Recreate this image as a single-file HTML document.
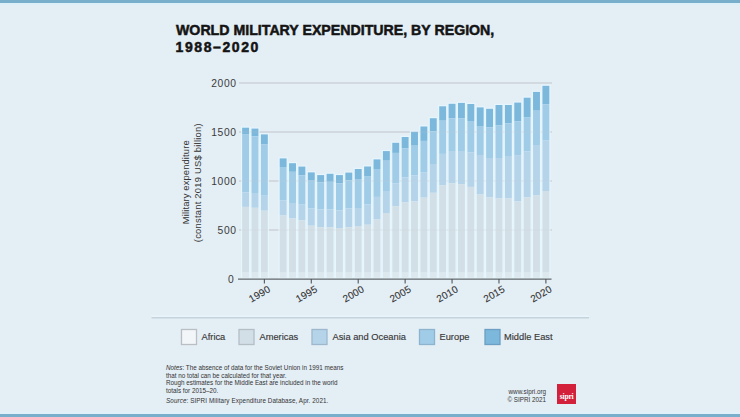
<!DOCTYPE html>
<html><head><meta charset="utf-8">
<style>
html,body{margin:0;padding:0;}
body{width:740px;height:417px;overflow:hidden;background:#e4eef5;position:relative;font-family:"Liberation Sans",sans-serif;}
.bar{position:absolute;left:0;width:740px;height:3px;background:#79afca;}
.t1,.t2{position:absolute;left:175.5px;font-weight:bold;font-size:14px;line-height:16px;color:#141414;white-space:nowrap;-webkit-text-stroke:0.5px #141414;transform-origin:0 0;}
.t1{top:22px;transform:scaleX(1.012);}
.t2{top:38.8px;letter-spacing:1.6px;}
.notes{position:absolute;left:166px;top:364.3px;font-size:6.3px;line-height:7.6px;color:#333;}
.notes .src{margin-top:2.8px;letter-spacing:0.09px;}
.web{position:absolute;right:194px;top:388.1px;font-size:6.3px;line-height:8.1px;color:#333;text-align:right;}
.logo{position:absolute;left:557px;top:384px;width:19.3px;height:19.5px;background:#d4213b;}
.logo span{position:absolute;left:0;width:19.3px;top:8.6px;color:#fff;font-family:"Liberation Serif",serif;font-weight:bold;font-size:7.6px;line-height:8px;text-align:center;letter-spacing:-0.2px;}
svg{position:absolute;left:0;top:0;}
</style></head><body>
<div class="bar" style="top:0"></div><div style="position:absolute;left:0;top:3px;width:740px;height:2px;background:#dcf0f9"></div>
<div style="position:absolute;left:0;top:412px;width:740px;height:2px;background:#e1f1fa"></div><div class="bar" style="top:414px"></div>
<div class="t1">WORLD MILITARY EXPENDITURE, BY REGION,</div><div class="t2">1988–2020</div>
<svg width="740" height="417" viewBox="0 0 740 417">
<g>
<line x1="239" y1="230.0" x2="552" y2="230.0" stroke="#c4cbd0" stroke-width="1"/>
<line x1="239" y1="181.0" x2="552" y2="181.0" stroke="#c4cbd0" stroke-width="1"/>
<line x1="239" y1="132.0" x2="552" y2="132.0" stroke="#c4cbd0" stroke-width="1"/>
<line x1="239" y1="83.0" x2="552" y2="83.0" stroke="#c4cbd0" stroke-width="1"/>
</g>
<g>
<rect x="240.95" y="126.50" width="9.30" height="152.50" fill="#e6f6fd"/>
<rect x="242.15" y="127.70" width="6.9" height="6.90" fill="#7cb7dc"/>
<rect x="242.15" y="134.60" width="6.9" height="57.90" fill="#a1cce7"/>
<rect x="242.15" y="192.50" width="6.9" height="14.40" fill="#b5d4ea"/>
<rect x="242.15" y="206.90" width="6.9" height="65.70" fill="#d3dfe6"/>
<rect x="242.15" y="272.60" width="6.9" height="5.20" fill="#dde8ee"/>
<rect x="250.33" y="127.40" width="9.30" height="151.60" fill="#e6f6fd"/>
<rect x="251.53" y="128.60" width="6.9" height="7.70" fill="#7cb7dc"/>
<rect x="251.53" y="136.30" width="6.9" height="56.70" fill="#a1cce7"/>
<rect x="251.53" y="193.00" width="6.9" height="14.80" fill="#b5d4ea"/>
<rect x="251.53" y="207.80" width="6.9" height="64.80" fill="#d3dfe6"/>
<rect x="251.53" y="272.60" width="6.9" height="5.20" fill="#dde8ee"/>
<rect x="259.72" y="133.20" width="9.30" height="145.80" fill="#e6f6fd"/>
<rect x="260.92" y="134.40" width="6.9" height="10.10" fill="#7cb7dc"/>
<rect x="260.92" y="144.50" width="6.9" height="51.20" fill="#a1cce7"/>
<rect x="260.92" y="195.70" width="6.9" height="15.00" fill="#b5d4ea"/>
<rect x="260.92" y="210.70" width="6.9" height="61.90" fill="#d3dfe6"/>
<rect x="260.92" y="272.60" width="6.9" height="5.20" fill="#dde8ee"/>
<rect x="278.49" y="157.20" width="9.30" height="121.80" fill="#e6f6fd"/>
<rect x="279.69" y="158.40" width="6.9" height="8.60" fill="#7cb7dc"/>
<rect x="279.69" y="167.00" width="6.9" height="33.20" fill="#a1cce7"/>
<rect x="279.69" y="200.20" width="6.9" height="15.30" fill="#b5d4ea"/>
<rect x="279.69" y="215.50" width="6.9" height="57.10" fill="#d3dfe6"/>
<rect x="279.69" y="272.60" width="6.9" height="5.20" fill="#dde8ee"/>
<rect x="287.87" y="162.00" width="9.30" height="117.00" fill="#e6f6fd"/>
<rect x="289.07" y="163.20" width="6.9" height="8.60" fill="#7cb7dc"/>
<rect x="289.07" y="171.80" width="6.9" height="31.20" fill="#a1cce7"/>
<rect x="289.07" y="203.00" width="6.9" height="15.40" fill="#b5d4ea"/>
<rect x="289.07" y="218.40" width="6.9" height="54.20" fill="#d3dfe6"/>
<rect x="289.07" y="272.60" width="6.9" height="5.20" fill="#dde8ee"/>
<rect x="297.25" y="165.40" width="9.30" height="113.60" fill="#e6f6fd"/>
<rect x="298.45" y="166.60" width="6.9" height="8.70" fill="#7cb7dc"/>
<rect x="298.45" y="175.30" width="6.9" height="29.30" fill="#a1cce7"/>
<rect x="298.45" y="204.60" width="6.9" height="15.70" fill="#b5d4ea"/>
<rect x="298.45" y="220.30" width="6.9" height="52.30" fill="#d3dfe6"/>
<rect x="298.45" y="272.60" width="6.9" height="5.20" fill="#dde8ee"/>
<rect x="306.64" y="171.20" width="9.30" height="107.80" fill="#e6f6fd"/>
<rect x="307.84" y="172.40" width="6.9" height="7.60" fill="#7cb7dc"/>
<rect x="307.84" y="180.00" width="6.9" height="28.40" fill="#a1cce7"/>
<rect x="307.84" y="208.40" width="6.9" height="17.30" fill="#b5d4ea"/>
<rect x="307.84" y="225.70" width="6.9" height="46.90" fill="#d3dfe6"/>
<rect x="307.84" y="272.60" width="6.9" height="5.20" fill="#dde8ee"/>
<rect x="316.02" y="173.90" width="9.30" height="105.10" fill="#e6f6fd"/>
<rect x="317.22" y="175.10" width="6.9" height="7.10" fill="#7cb7dc"/>
<rect x="317.22" y="182.20" width="6.9" height="27.10" fill="#a1cce7"/>
<rect x="317.22" y="209.30" width="6.9" height="17.90" fill="#b5d4ea"/>
<rect x="317.22" y="227.20" width="6.9" height="45.40" fill="#d3dfe6"/>
<rect x="317.22" y="272.60" width="6.9" height="5.20" fill="#dde8ee"/>
<rect x="325.41" y="172.60" width="9.30" height="106.40" fill="#e6f6fd"/>
<rect x="326.61" y="173.80" width="6.9" height="8.00" fill="#7cb7dc"/>
<rect x="326.61" y="181.80" width="6.9" height="27.50" fill="#a1cce7"/>
<rect x="326.61" y="209.30" width="6.9" height="17.90" fill="#b5d4ea"/>
<rect x="326.61" y="227.20" width="6.9" height="45.40" fill="#d3dfe6"/>
<rect x="326.61" y="272.60" width="6.9" height="5.20" fill="#dde8ee"/>
<rect x="334.79" y="173.90" width="9.30" height="105.10" fill="#e6f6fd"/>
<rect x="335.99" y="175.10" width="6.9" height="8.30" fill="#7cb7dc"/>
<rect x="335.99" y="183.40" width="6.9" height="26.90" fill="#a1cce7"/>
<rect x="335.99" y="210.30" width="6.9" height="17.70" fill="#b5d4ea"/>
<rect x="335.99" y="228.00" width="6.9" height="44.60" fill="#d3dfe6"/>
<rect x="335.99" y="272.60" width="6.9" height="5.20" fill="#dde8ee"/>
<rect x="344.17" y="171.40" width="9.30" height="107.60" fill="#e6f6fd"/>
<rect x="345.37" y="172.60" width="6.9" height="7.70" fill="#7cb7dc"/>
<rect x="345.37" y="180.30" width="6.9" height="28.10" fill="#a1cce7"/>
<rect x="345.37" y="208.40" width="6.9" height="18.80" fill="#b5d4ea"/>
<rect x="345.37" y="227.20" width="6.9" height="45.40" fill="#d3dfe6"/>
<rect x="345.37" y="272.60" width="6.9" height="5.20" fill="#dde8ee"/>
<rect x="353.56" y="167.80" width="9.30" height="111.20" fill="#e6f6fd"/>
<rect x="354.76" y="169.00" width="6.9" height="10.00" fill="#7cb7dc"/>
<rect x="354.76" y="179.00" width="6.9" height="29.00" fill="#a1cce7"/>
<rect x="354.76" y="208.00" width="6.9" height="18.00" fill="#b5d4ea"/>
<rect x="354.76" y="226.00" width="6.9" height="46.60" fill="#d3dfe6"/>
<rect x="354.76" y="272.60" width="6.9" height="5.20" fill="#dde8ee"/>
<rect x="362.94" y="165.30" width="9.30" height="113.70" fill="#e6f6fd"/>
<rect x="364.14" y="166.50" width="6.9" height="10.10" fill="#7cb7dc"/>
<rect x="364.14" y="176.60" width="6.9" height="27.90" fill="#a1cce7"/>
<rect x="364.14" y="204.50" width="6.9" height="20.20" fill="#b5d4ea"/>
<rect x="364.14" y="224.70" width="6.9" height="47.90" fill="#d3dfe6"/>
<rect x="364.14" y="272.60" width="6.9" height="5.20" fill="#dde8ee"/>
<rect x="372.33" y="158.20" width="9.30" height="120.80" fill="#e6f6fd"/>
<rect x="373.53" y="159.40" width="6.9" height="9.60" fill="#7cb7dc"/>
<rect x="373.53" y="169.00" width="6.9" height="27.90" fill="#a1cce7"/>
<rect x="373.53" y="196.90" width="6.9" height="22.60" fill="#b5d4ea"/>
<rect x="373.53" y="219.50" width="6.9" height="53.10" fill="#d3dfe6"/>
<rect x="373.53" y="272.60" width="6.9" height="5.20" fill="#dde8ee"/>
<rect x="381.71" y="149.90" width="9.30" height="129.10" fill="#e6f6fd"/>
<rect x="382.91" y="151.10" width="6.9" height="9.60" fill="#7cb7dc"/>
<rect x="382.91" y="160.70" width="6.9" height="30.30" fill="#a1cce7"/>
<rect x="382.91" y="191.00" width="6.9" height="22.00" fill="#b5d4ea"/>
<rect x="382.91" y="213.00" width="6.9" height="59.60" fill="#d3dfe6"/>
<rect x="382.91" y="272.60" width="6.9" height="5.20" fill="#dde8ee"/>
<rect x="391.09" y="141.60" width="9.30" height="137.40" fill="#e6f6fd"/>
<rect x="392.29" y="142.80" width="6.9" height="10.10" fill="#7cb7dc"/>
<rect x="392.29" y="152.90" width="6.9" height="30.30" fill="#a1cce7"/>
<rect x="392.29" y="183.20" width="6.9" height="23.00" fill="#b5d4ea"/>
<rect x="392.29" y="206.20" width="6.9" height="66.40" fill="#d3dfe6"/>
<rect x="392.29" y="272.60" width="6.9" height="5.20" fill="#dde8ee"/>
<rect x="400.48" y="135.80" width="9.30" height="143.20" fill="#e6f6fd"/>
<rect x="401.68" y="137.00" width="6.9" height="11.50" fill="#7cb7dc"/>
<rect x="401.68" y="148.50" width="6.9" height="28.90" fill="#a1cce7"/>
<rect x="401.68" y="177.40" width="6.9" height="25.00" fill="#b5d4ea"/>
<rect x="401.68" y="202.40" width="6.9" height="70.20" fill="#d3dfe6"/>
<rect x="401.68" y="272.60" width="6.9" height="5.20" fill="#dde8ee"/>
<rect x="409.86" y="130.60" width="9.30" height="148.40" fill="#e6f6fd"/>
<rect x="411.06" y="131.80" width="6.9" height="13.90" fill="#7cb7dc"/>
<rect x="411.06" y="145.70" width="6.9" height="29.80" fill="#a1cce7"/>
<rect x="411.06" y="175.50" width="6.9" height="25.90" fill="#b5d4ea"/>
<rect x="411.06" y="201.40" width="6.9" height="71.20" fill="#d3dfe6"/>
<rect x="411.06" y="272.60" width="6.9" height="5.20" fill="#dde8ee"/>
<rect x="419.25" y="125.30" width="9.30" height="153.70" fill="#e6f6fd"/>
<rect x="420.45" y="126.50" width="6.9" height="14.40" fill="#7cb7dc"/>
<rect x="420.45" y="140.90" width="6.9" height="31.70" fill="#a1cce7"/>
<rect x="420.45" y="172.60" width="6.9" height="25.00" fill="#b5d4ea"/>
<rect x="420.45" y="197.60" width="6.9" height="75.00" fill="#d3dfe6"/>
<rect x="420.45" y="272.60" width="6.9" height="5.20" fill="#dde8ee"/>
<rect x="428.63" y="117.00" width="9.30" height="162.00" fill="#e6f6fd"/>
<rect x="429.83" y="118.20" width="6.9" height="13.10" fill="#7cb7dc"/>
<rect x="429.83" y="131.30" width="6.9" height="32.70" fill="#a1cce7"/>
<rect x="429.83" y="164.00" width="6.9" height="28.80" fill="#b5d4ea"/>
<rect x="429.83" y="192.80" width="6.9" height="79.80" fill="#d3dfe6"/>
<rect x="429.83" y="272.60" width="6.9" height="5.20" fill="#dde8ee"/>
<rect x="438.01" y="105.10" width="9.30" height="173.90" fill="#e6f6fd"/>
<rect x="439.21" y="106.30" width="6.9" height="14.40" fill="#7cb7dc"/>
<rect x="439.21" y="120.70" width="6.9" height="33.20" fill="#a1cce7"/>
<rect x="439.21" y="153.90" width="6.9" height="31.20" fill="#b5d4ea"/>
<rect x="439.21" y="185.10" width="6.9" height="87.50" fill="#d3dfe6"/>
<rect x="439.21" y="272.60" width="6.9" height="5.20" fill="#dde8ee"/>
<rect x="447.40" y="102.60" width="9.30" height="176.40" fill="#e6f6fd"/>
<rect x="448.60" y="103.80" width="6.9" height="14.60" fill="#7cb7dc"/>
<rect x="448.60" y="118.40" width="6.9" height="32.60" fill="#a1cce7"/>
<rect x="448.60" y="151.00" width="6.9" height="32.20" fill="#b5d4ea"/>
<rect x="448.60" y="183.20" width="6.9" height="89.40" fill="#d3dfe6"/>
<rect x="448.60" y="272.60" width="6.9" height="5.20" fill="#dde8ee"/>
<rect x="456.78" y="101.70" width="9.30" height="177.30" fill="#e6f6fd"/>
<rect x="457.98" y="102.90" width="6.9" height="15.50" fill="#7cb7dc"/>
<rect x="457.98" y="118.40" width="6.9" height="32.60" fill="#a1cce7"/>
<rect x="457.98" y="151.00" width="6.9" height="33.10" fill="#b5d4ea"/>
<rect x="457.98" y="184.10" width="6.9" height="88.50" fill="#d3dfe6"/>
<rect x="457.98" y="272.60" width="6.9" height="5.20" fill="#dde8ee"/>
<rect x="466.17" y="102.80" width="9.30" height="176.20" fill="#e6f6fd"/>
<rect x="467.37" y="104.00" width="6.9" height="17.00" fill="#7cb7dc"/>
<rect x="467.37" y="121.00" width="6.9" height="31.20" fill="#a1cce7"/>
<rect x="467.37" y="152.20" width="6.9" height="34.70" fill="#b5d4ea"/>
<rect x="467.37" y="186.90" width="6.9" height="85.70" fill="#d3dfe6"/>
<rect x="467.37" y="272.60" width="6.9" height="5.20" fill="#dde8ee"/>
<rect x="475.55" y="106.20" width="9.30" height="172.80" fill="#e6f6fd"/>
<rect x="476.75" y="107.40" width="6.9" height="18.60" fill="#7cb7dc"/>
<rect x="476.75" y="126.00" width="6.9" height="29.00" fill="#a1cce7"/>
<rect x="476.75" y="155.00" width="6.9" height="39.50" fill="#b5d4ea"/>
<rect x="476.75" y="194.50" width="6.9" height="78.10" fill="#d3dfe6"/>
<rect x="476.75" y="272.60" width="6.9" height="5.20" fill="#dde8ee"/>
<rect x="484.93" y="107.60" width="9.30" height="171.40" fill="#e6f6fd"/>
<rect x="486.13" y="108.80" width="6.9" height="18.40" fill="#7cb7dc"/>
<rect x="486.13" y="127.20" width="6.9" height="30.80" fill="#a1cce7"/>
<rect x="486.13" y="158.00" width="6.9" height="39.40" fill="#b5d4ea"/>
<rect x="486.13" y="197.40" width="6.9" height="75.20" fill="#d3dfe6"/>
<rect x="486.13" y="272.60" width="6.9" height="5.20" fill="#dde8ee"/>
<rect x="494.32" y="103.80" width="9.30" height="175.20" fill="#e6f6fd"/>
<rect x="495.52" y="105.00" width="6.9" height="20.50" fill="#7cb7dc"/>
<rect x="495.52" y="125.50" width="6.9" height="32.50" fill="#a1cce7"/>
<rect x="495.52" y="158.00" width="6.9" height="40.40" fill="#b5d4ea"/>
<rect x="495.52" y="198.40" width="6.9" height="74.20" fill="#d3dfe6"/>
<rect x="495.52" y="272.60" width="6.9" height="5.20" fill="#dde8ee"/>
<rect x="503.70" y="103.80" width="9.30" height="175.20" fill="#e6f6fd"/>
<rect x="504.90" y="105.00" width="6.9" height="18.30" fill="#7cb7dc"/>
<rect x="504.90" y="123.30" width="6.9" height="32.70" fill="#a1cce7"/>
<rect x="504.90" y="156.00" width="6.9" height="42.40" fill="#b5d4ea"/>
<rect x="504.90" y="198.40" width="6.9" height="74.20" fill="#d3dfe6"/>
<rect x="504.90" y="272.60" width="6.9" height="5.20" fill="#dde8ee"/>
<rect x="513.09" y="101.40" width="9.30" height="177.60" fill="#e6f6fd"/>
<rect x="514.29" y="102.60" width="6.9" height="18.80" fill="#7cb7dc"/>
<rect x="514.29" y="121.40" width="6.9" height="33.70" fill="#a1cce7"/>
<rect x="514.29" y="155.10" width="6.9" height="46.20" fill="#b5d4ea"/>
<rect x="514.29" y="201.30" width="6.9" height="71.30" fill="#d3dfe6"/>
<rect x="514.29" y="272.60" width="6.9" height="5.20" fill="#dde8ee"/>
<rect x="522.47" y="96.50" width="9.30" height="182.50" fill="#e6f6fd"/>
<rect x="523.67" y="97.70" width="6.9" height="19.40" fill="#7cb7dc"/>
<rect x="523.67" y="117.10" width="6.9" height="34.40" fill="#a1cce7"/>
<rect x="523.67" y="151.50" width="6.9" height="45.90" fill="#b5d4ea"/>
<rect x="523.67" y="197.40" width="6.9" height="75.20" fill="#d3dfe6"/>
<rect x="523.67" y="272.60" width="6.9" height="5.20" fill="#dde8ee"/>
<rect x="531.85" y="90.70" width="9.30" height="188.30" fill="#e6f6fd"/>
<rect x="533.05" y="91.90" width="6.9" height="18.80" fill="#7cb7dc"/>
<rect x="533.05" y="110.70" width="6.9" height="34.30" fill="#a1cce7"/>
<rect x="533.05" y="145.00" width="6.9" height="50.50" fill="#b5d4ea"/>
<rect x="533.05" y="195.50" width="6.9" height="77.10" fill="#d3dfe6"/>
<rect x="533.05" y="272.60" width="6.9" height="5.20" fill="#dde8ee"/>
<rect x="541.24" y="84.60" width="9.30" height="194.40" fill="#e6f6fd"/>
<rect x="542.44" y="85.80" width="6.9" height="18.60" fill="#7cb7dc"/>
<rect x="542.44" y="104.40" width="6.9" height="36.20" fill="#a1cce7"/>
<rect x="542.44" y="140.60" width="6.9" height="50.40" fill="#b5d4ea"/>
<rect x="542.44" y="191.00" width="6.9" height="81.60" fill="#d3dfe6"/>
<rect x="542.44" y="272.60" width="6.9" height="5.20" fill="#dde8ee"/>
</g>
<g opacity="0.22">
<line x1="239" y1="230.0" x2="552" y2="230.0" stroke="#c4cbd0" stroke-width="1"/>
<line x1="239" y1="181.0" x2="552" y2="181.0" stroke="#c4cbd0" stroke-width="1"/>
<line x1="239" y1="132.0" x2="552" y2="132.0" stroke="#c4cbd0" stroke-width="1"/>
<line x1="239" y1="83.0" x2="552" y2="83.0" stroke="#c4cbd0" stroke-width="1"/>
</g>
<line x1="238" y1="279.2" x2="551.5" y2="279.2" stroke="#62696d" stroke-width="1.3"/>
<g font-family="Liberation Sans" font-size="10.3" fill="#3a3a3a" letter-spacing="0.6">
<text x="234.3" y="282.7" text-anchor="end">0</text>
<text x="236.6" y="233.7" text-anchor="end">500</text>
<text x="236.6" y="184.7" text-anchor="end">1000</text>
<text x="236.6" y="135.7" text-anchor="end">1500</text>
<text x="236.6" y="86.7" text-anchor="end">2000</text>
</g>
<g font-family="Liberation Sans" font-size="10" fill="#353535" stroke="#353535" stroke-width="0.12" letter-spacing="0.15">
<line x1="264.37" y1="279" x2="264.37" y2="283.5" stroke="#50565a" stroke-width="1.1"/>
<text transform="translate(271.17,291.2) rotate(-30)" text-anchor="end">1990</text>
<line x1="311.29" y1="279" x2="311.29" y2="283.5" stroke="#50565a" stroke-width="1.1"/>
<text transform="translate(318.09,291.2) rotate(-30)" text-anchor="end">1995</text>
<line x1="358.21" y1="279" x2="358.21" y2="283.5" stroke="#50565a" stroke-width="1.1"/>
<text transform="translate(365.01,291.2) rotate(-30)" text-anchor="end">2000</text>
<line x1="405.13" y1="279" x2="405.13" y2="283.5" stroke="#50565a" stroke-width="1.1"/>
<text transform="translate(411.93,291.2) rotate(-30)" text-anchor="end">2005</text>
<line x1="452.05" y1="279" x2="452.05" y2="283.5" stroke="#50565a" stroke-width="1.1"/>
<text transform="translate(458.85,291.2) rotate(-30)" text-anchor="end">2010</text>
<line x1="498.97" y1="279" x2="498.97" y2="283.5" stroke="#50565a" stroke-width="1.1"/>
<text transform="translate(505.77,291.2) rotate(-30)" text-anchor="end">2015</text>
<line x1="545.89" y1="279" x2="545.89" y2="283.5" stroke="#50565a" stroke-width="1.1"/>
<text transform="translate(552.69,291.2) rotate(-30)" text-anchor="end">2020</text>
</g>
<g font-family="Liberation Sans" font-size="9.4" fill="#333">
<text transform="translate(188.8,182.2) rotate(-90)" text-anchor="middle" letter-spacing="0.13">Military expenditure</text>
<text transform="translate(200.8,182.7) rotate(-90)" text-anchor="middle" letter-spacing="0.24">(constant 2019 US$ billion)</text>
</g>
<line x1="151.5" y1="316.2" x2="589" y2="316.2" stroke="#eaf6fc" stroke-width="1.2"/>
<line x1="151.5" y1="317.7" x2="589" y2="317.7" stroke="#c6d3db" stroke-width="1.5"/>
<g stroke-width="1.3">
<rect x="181.5" y="329.5" width="15" height="15" fill="#f3f6f8" stroke="#b9bfc3"/>
<rect x="239" y="329.5" width="15" height="15" fill="#d3dfe6" stroke="#b3bec5"/>
<rect x="312" y="329.5" width="15" height="15" fill="#b5d4ea" stroke="#9db8cc"/>
<rect x="419.5" y="329.5" width="15" height="15" fill="#a1cce7" stroke="#8db4cf"/>
<rect x="485" y="329.5" width="15" height="15" fill="#7cb7dc" stroke="#6c9fc2"/>
</g>
<g font-family="Liberation Sans" font-size="9.3" fill="#383838" stroke="#383838" stroke-width="0.15">
<text x="201.5" y="339.8">Africa</text>
<text x="259.5" y="339.8">Americas</text>
<text x="332.5" y="339.8">Asia and Oceania</text>
<text x="439.5" y="339.8">Europe</text>
<text x="504" y="339.8">Middle East</text>
</g>
</svg>
<div class="notes"><i>Notes</i>: The absence of data for the Soviet Union in 1991 means<br>that no total can be calculated for that year.<br>Rough estimates for the Middle East are included in the world<br>totals for 2015–20.<div class="src"><i>Source</i>: SIPRI Military Expenditure Database, Apr. 2021.</div></div>
<div class="web">www.sipri.org<br>© SIPRI 2021</div>
<div class="logo"><span>sipri</span></div>
</body></html>
